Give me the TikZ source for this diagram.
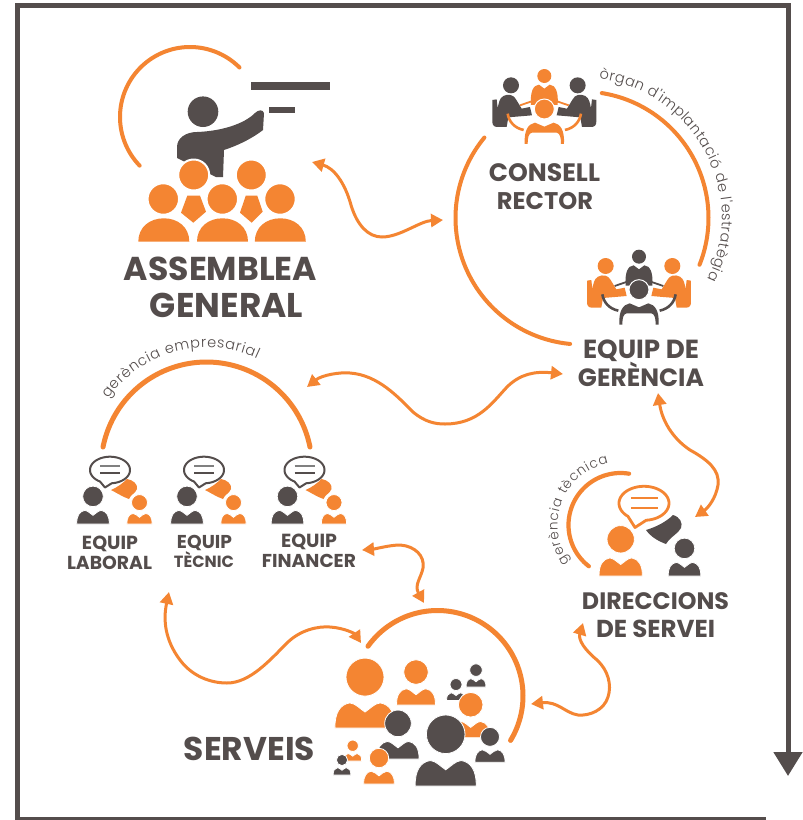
\documentclass[tikz,border=0pt]{standalone}
\usepackage{fontspec}
\usepackage{graphicx}
\setmainfont{Poppins}
\newfontfamily\lightf{Poppins Light}
\usetikzlibrary{arrows.meta,decorations.text}
\definecolor{org}{HTML}{F48532}
\definecolor{drk}{HTML}{544D4C}
\tikzset{
  conn/.style={draw=org,line width=3pt,line join=round,{Triangle[length=12pt,width=13pt]}-{Triangle[length=12pt,width=13pt]}},
  ring/.style={draw=org,line cap=round},
  framed/.style={draw=drk,line width=5pt},
  title/.style={anchor=base,inner sep=0pt,text=drk},
}
\newcommand{\arcp}[5]{plot[domain=#4:#5,samples=90] ({#1+#3*cos(\x)},{#2+#3*sin(\x)})}
\newcommand{\curvetext}[7]{\path[decorate,decoration={text along path,text align=fit to path,text color=drk,text={|\lightf\fontsize{#6}{#6}\selectfont|#7}}] \arcp{#1}{#2}{#3}{#4}{#5};}
\newcommand{\lab}[5]{\node[title] (#1) at (#2,#3) {\resizebox{#4pt}{!}{\bfseries #5}};}
% person: base-centre x,y; head radius; colour
\newcommand{\pers}[4]{\begin{scope}[shift={(#1,#2)},x=#3pt,y=-#3pt]
  \path[fill=#4,draw=white,line width=0.8pt] (-1.58,0) .. controls (-1.6,-.8) and (-1.3,-1.25) .. (-.8,-1.32) .. controls (-.5,-1.3) and (-.25,-1) .. (0,-.84) .. controls (.25,-1) and (.5,-1.3) .. (.8,-1.32) .. controls (1.3,-1.25) and (1.6,-.8) .. (1.58,0) -- cycle;
  \path[fill=#4,draw=white,line width=0.8pt] (0,-2.68) circle[radius=#3pt];
\end{scope}}
% bubble: cx rx cy ry tipx tipy colour lw startangle
\newcommand{\bub}[9]{\draw[#7,fill=white,line width=#8pt,line join=round] plot[domain=#9:445,samples=70] ({#1+#2*cos(\x)},{#3+#4*sin(\x)}) -- (#5,#6) -- cycle;}
\newcommand{\pairicon}[1]{\begin{scope}[xshift=#1pt]
  \bub{110}{20}{470}{13.3}{105}{487.5}{drk}{2}{120}
  \draw[gray,line width=1.6pt] (100,466)--(120,466);
  \draw[drk,line width=1.6pt] (100,473)--(120,473);
  \fill[org] (111,490) .. controls (118,487) and (123,483) .. (127,479) .. controls (133,480) and (138,484) .. (137,489) .. controls (135,494) and (131,494) .. (129,499) .. controls (123,497) and (117,493) .. (111,490) -- cycle;
  \pers{93}{524}{10.3}{drk}
  \pers{139.5}{524}{8}{org}
\end{scope}}
% meeting icon, in units of 1/3 px, relative to zoom frame
\newcommand{\meeting}[4]{\begin{scope}[shift={(#1,#2)},x=.3333pt,y=-.3333pt]
  \fill[#3] (313,78) circle[radius=7pt];
  \fill[#3] (273,165) .. controls (270,125) and (280,105) .. (297,104) -- (313,116) -- (329,104) .. controls (346,105) and (356,125) .. (353,165) -- cycle;
  \draw[#3,line width=1.8pt] (240,166)--(275,154) (386,166)--(351,154);
  \foreach \s in {1,-1}{\begin{scope}[shift={(313,0)},x=\s*.3333pt]
    \fill[#4] (100,106) circle[radius=8pt];
    \fill[#4] (156,150) -- (143,148) -- (140,175) .. controls (137,160) and (135,145) .. (123,138) .. controls (108,130) and (91,135) .. (85,148) -- (68,176) -- (43,171) -- (37,196) -- (108,202) -- (113,231) -- (141,231) .. controls (151,231) and (156,225) .. (156,215) -- cycle;
    \draw[#3,line width=2.6pt] (110,191) .. controls (106,215) and (90,234) .. (62,240);
  \end{scope}}
  \path[fill=#3,draw=white,line width=1pt] (313,177) circle[radius=10pt];
  \fill[#3] (254,282) .. controls (252,240) and (265,222) .. (285,218) -- (313,230) -- (341,218) .. controls (361,222) and (374,240) .. (372,282) -- (363,282) .. controls (363,262) and (360,250) .. (350,248) -- (276,248) .. controls (266,250) and (263,262) .. (263,282) -- cycle;
\end{scope}}
\begin{document}
\begin{tikzpicture}[x=1pt,y=-1pt]
\useasboundingbox (0,0) rectangle (803,820);
\fill[white] (0,0) rectangle (803,820);
% frame
\coordinate (fa) at (766,819);
\coordinate (fb) at (17,819);
\coordinate (fc) at (17,5);
\coordinate (fd) at (788,5);
\coordinate (fe) at (788,776);
\draw[framed,-{Triangle[length=24pt,width=28pt]}] (fa)--(fb)--(fc)--(fd)--(fe);

% ---- Assemblea
\draw[ring,line width=4pt] \arcp{190}{117}{70}{136}{-45+360};
\fill[drk] (250.7,81.7) rectangle (330,90);
\fill[drk] (269,106.7) rectangle (295,112.7);
\fill[drk] (203,111.7) circle[radius=15.3pt];
\fill[drk] (177,158) -- (177,147) .. controls (177,138) and (186,132) .. (197,132) .. controls (222,131) and (244,124) .. (255,113) .. controls (258,110) and (263,109) .. (264,113) -- (263,130) .. controls (250,140) and (236,146) .. (224,150) -- (223,177) -- (216,177) -- cycle;
\foreach \p in {193.7,251.3}{\path[fill=org,draw=white,line width=2pt] (\p,175) circle[radius=15.5pt];}
\fill[org] (187.3,195.7) -- (200,195.7) -- (206,211.7) -- (193.3,222.7) -- (181,212.7) -- cycle;
\fill[org] (245.7,195.7) -- (257.3,195.7) -- (262.7,211.7) -- (251.7,222.7) -- (240,212.7) -- cycle;
\foreach \p/\q in {163.8/163.3,222.5/222.3,280.3/280}{
  \path[fill=org,draw=white,line width=1.5pt] (\q,199) circle[radius=15.5pt];
  \fill[org] (\p-25.5,241.7) .. controls (\p-25.5,227) and (\p-14,218.3) .. (\p,218.3) .. controls (\p+14,218.3) and (\p+25.5,227) .. (\p+25.5,241.7) -- cycle;
}
\lab{ag1}{220.5}{280}{193}{ASSEMBLEA}
\lab{ag2}{226.5}{317}{153}{GENERAL}

% ---- Consell rector / Equip de gerencia
\draw[ring,line width=4pt] \arcp{582}{218}{126.5}{219.5}{95.4};
\draw[ring,line width=4pt] \arcp{582}{218}{126.5}{-81}{21.7};
\curvetext{582}{218}{140}{-83}{26}{14.5}{òrgan d'implantació de l'estratègia}
\meeting{440}{50}{org}{drk}
\meeting{534.67}{230.67}{drk}{org}
\lab{cr1}{544.5}{181}{111}{CONSELL}
\lab{cr2}{545}{209}{96}{RECTOR}
\lab{eg1}{641}{358}{116}{EQUIP DE}
\lab{eg2}{641}{386}{126}{GERÈNCIA}

% ---- Gerencia empresarial
\draw[ring,line width=5pt] \arcp{206.5}{467.5}{105.5}{-168.8}{-11.2};
\curvetext{206.5}{467.5}{120}{-145}{-65}{14.5}{gerència empresarial}
\pairicon{0}
\pairicon{94}
\pairicon{194.5}
\lab{el1}{110}{549}{56}{EQUIP}
\lab{el2}{109.5}{569}{85}{LABORAL}
\lab{et1}{204.5}{548}{55}{EQUIP}
\lab{et2}{204}{567}{60}{TÈCNIC}
\lab{ef1}{309}{547}{56}{EQUIP}
\lab{ef2}{309}{567}{94}{FINANCER}

% ---- Direccions
\draw[ring,line width=4.2pt] \arcp{620.5}{525}{52}{127.5}{279.5};
\curvetext{620.5}{525}{63}{144}{259}{13.5}{gerència tècnica}
\bub{644}{25}{503.3}{17}{635}{527.5}{org}{2.8}{130}
\draw[org,line width=2.4pt] (631,498)--(658,498) (631,507.7)--(658,507.7);
\fill[drk] (646,530) .. controls (656,527) and (666,522) .. (673,515) .. controls (680,517) and (683,523) .. (681,528) .. controls (678,534) and (671,536) .. (666,544) .. controls (658,541) and (651,537) .. (646,530) -- cycle;
\pers{620.7}{576}{13.7}{org}
\pers{684.5}{576}{10.3}{drk}
\lab{ds1}{655.5}{609}{147}{DIRECCIONS}
\lab{ds2}{655.5}{637}{119}{DE SERVEI}

% ---- Serveis
\draw[ring,line width=5pt] \arcp{437.5}{696}{85.5}{-144.4}{31.3};
\pers{365}{728}{19}{org}
\pers{416}{705}{12.3}{org}
\pers{476}{687}{6.3}{drk}
\pers{456}{700.6}{6}{drk}
\pers{470.7}{737.7}{12.3}{org}
\pers{398}{759}{13.3}{drk}
\pers{352.7}{761}{5.7}{org}
\pers{342}{775}{5.6}{drk}
\pers{379}{784}{9.7}{org}
\pers{445.7}{786}{19.3}{drk}
\pers{490}{762.3}{9.5}{drk}
\lab{sv}{249.5}{760}{131}{SERVEIS}

% ---- connectors
\coordinate (c1a) at (312,162);
\coordinate (c1b) at (443,220);
\draw[conn] (c1a) .. controls (334,168) and (345,183) .. (351,205) .. controls (357,225) and (368,237) .. (382,237) .. controls (400,237) and (420,221) .. (c1b);
\coordinate (c2a) at (307,387);
\coordinate (c2b) at (563,374);
\draw[conn] (c2a) .. controls (322,375) and (340,372) .. (350,373) .. controls (378,375) and (398,397) .. (413,412) .. controls (425,422) and (435,424) .. (445,424) .. controls (478,424) and (492,403) .. (507,387) .. controls (520,374) and (535,371) .. (c2b);
\coordinate (c3a) at (658,393);
\coordinate (c3b) at (695,517);
\draw[conn] (c3a) .. controls (662,420) and (672,438) .. (690,450) .. controls (708,460) and (720,470) .. (718,485) .. controls (716,498) and (708,508) .. (c3b);
\coordinate (c4a) at (583,623);
\coordinate (c4b) at (531,704);
\draw[conn] (c4a) .. controls (578,640) and (585,650) .. (597,660) .. controls (608,670) and (612,685) .. (608,697) .. controls (604,710) and (590,716) .. (578,715) .. controls (565,713) and (558,701) .. (c4b);
\coordinate (c5a) at (362,550);
\coordinate (c5b) at (424,603);
\draw[conn] (c5a) .. controls (375,549) and (390,545) .. (400,545) .. controls (415,546) and (425,556) .. (423,568) .. controls (421,578) and (414,585) .. (c5b);
\coordinate (c6a) at (169,592);
\coordinate (c6b) at (361,643);
\draw[conn] (c6a) .. controls (163,620) and (165,640) .. (180,660) .. controls (192,676) and (210,683) .. (227,683) .. controls (250,683) and (270,660) .. (287,643) .. controls (300,630) and (318,626) .. (330,627) .. controls (345,628) and (355,634) .. (c6b);
\end{tikzpicture}
\end{document}
